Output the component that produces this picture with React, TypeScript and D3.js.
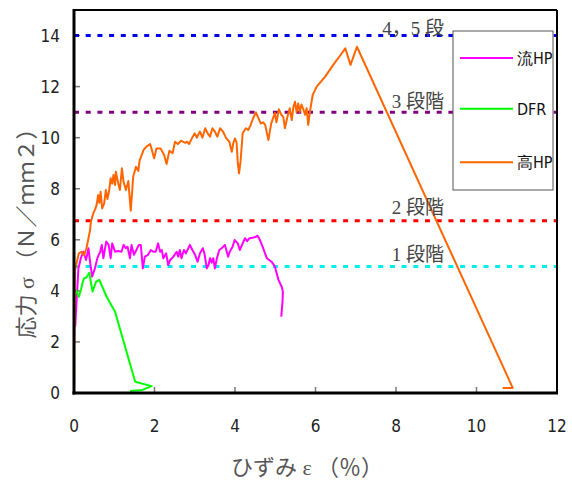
import React from "react";
import * as d3 from "d3";

type P = [number, number];

// 高HP (orange)
const koHP: P[] = [
  [0, 0], [0.02, 4.8], [0.04, 4.9], [0.07, 5.14], [0.12, 5.47], [0.19, 5.53], [0.25, 5.4], [0.31, 5.67],
  [0.35, 5.99], [0.4, 6.38], [0.42, 6.71], [0.48, 7.04], [0.52, 7.17], [0.56, 7.36], [0.6, 7.75], [0.63, 7.45],
  [0.66, 7.88], [0.7, 7.23], [0.75, 7.43], [0.79, 7.95], [0.83, 7.6], [0.87, 7.9], [0.91, 8.41], [0.95, 8.2],
  [0.98, 8.54], [1.02, 8.15], [1.04, 8.67], [1.1, 8.2], [1.14, 7.95], [1.19, 8.8], [1.23, 8.28], [1.29, 7.95],
  [1.35, 8.3], [1.41, 7.14], [1.45, 8.0], [1.47, 8.47], [1.54, 8.86], [1.6, 8.7], [1.63, 9.1], [1.73, 9.52],
  [1.8, 9.65], [1.89, 9.75], [1.93, 9.55], [1.99, 9.19], [2.05, 9.58], [2.15, 9.58], [2.24, 9.32], [2.3, 8.97],
  [2.37, 9.49], [2.45, 9.39], [2.51, 9.84], [2.58, 9.75], [2.66, 9.88], [2.76, 9.8], [2.81, 9.84], [2.86, 9.75],
  [2.95, 10.04], [3.0, 10.17], [3.05, 10.0], [3.13, 10.24], [3.19, 10.0], [3.26, 10.37], [3.32, 10.17],
  [3.38, 10.04], [3.44, 10.37], [3.5, 10.24], [3.56, 10.04], [3.63, 10.37], [3.7, 10.24], [3.78, 9.98],
  [3.86, 9.84], [3.92, 9.45], [3.96, 9.8], [4.0, 9.97], [4.04, 9.8], [4.07, 9.0], [4.1, 8.6], [4.14, 9.1],
  [4.19, 10.17], [4.27, 10.37], [4.33, 10.3], [4.39, 10.5], [4.45, 10.76], [4.52, 10.99], [4.6, 10.7],
  [4.64, 10.56], [4.7, 10.6], [4.75, 10.5], [4.83, 9.91], [4.9, 10.56], [4.99, 10.96], [5.03, 10.6],
  [5.09, 11.11], [5.15, 10.9], [5.2, 10.8], [5.24, 10.37], [5.3, 10.8], [5.36, 11.15], [5.41, 10.69],
  [5.45, 11.2], [5.49, 11.41], [5.53, 11.0], [5.57, 11.34], [5.61, 11.0], [5.65, 11.3], [5.7, 11.1],
  [5.74, 10.9], [5.78, 11.15], [5.82, 10.5], [5.86, 11.0], [5.93, 11.67], [6.03, 12.0], [6.24, 12.39],
  [6.44, 12.85], [6.59, 13.17], [6.74, 13.5], [6.87, 12.85], [7.03, 13.56], [10.9, 0.2], [10.65, 0.2],
];

// 流HP (magenta)
const ryuHP: P[] = [
  [0.03, 2.6], [0.05, 3.2], [0.11, 4.88], [0.17, 5.28], [0.23, 5.53], [0.3, 5.21], [0.36, 5.67], [0.4, 5.14],
  [0.45, 4.56], [0.52, 4.88], [0.58, 5.28], [0.65, 5.53], [0.69, 5.8], [0.73, 5.28], [0.8, 5.93], [0.86, 5.8],
  [0.91, 5.28], [0.95, 5.86], [1.02, 5.53], [1.1, 5.56], [1.18, 5.53], [1.23, 5.8], [1.29, 5.67], [1.33, 5.73],
  [1.39, 5.28], [1.43, 5.8], [1.49, 5.41], [1.55, 5.6], [1.61, 5.8], [1.66, 5.8], [1.71, 4.88], [1.76, 5.34],
  [1.84, 5.41], [1.91, 5.6], [1.97, 5.53], [2.03, 5.53], [2.09, 5.86], [2.14, 5.53], [2.18, 5.6], [2.22, 5.28],
  [2.29, 5.47], [2.34, 5.01], [2.39, 5.21], [2.47, 5.34], [2.55, 5.53], [2.59, 5.34], [2.63, 5.6], [2.67, 5.28],
  [2.73, 5.6], [2.78, 5.47], [2.84, 5.67], [2.88, 5.8], [2.94, 5.6], [3.01, 5.41], [3.07, 5.14], [3.13, 5.47],
  [3.2, 5.67], [3.24, 5.47], [3.3, 4.88], [3.34, 5.0], [3.38, 5.28], [3.42, 5.1], [3.46, 5.28], [3.5, 4.88],
  [3.55, 5.28], [3.61, 5.6], [3.67, 5.67], [3.75, 5.8], [3.83, 5.34], [3.87, 5.53], [3.94, 5.73], [3.99, 5.99],
  [4.07, 5.86], [4.12, 5.6], [4.19, 5.86], [4.25, 6.06], [4.3, 5.95], [4.36, 6.06], [4.44, 6.08], [4.52, 6.12],
  [4.56, 6.16], [4.62, 5.99], [4.7, 5.67], [4.79, 5.28], [4.91, 5.14], [4.99, 4.95], [5.08, 4.43], [5.16, 4.16],
  [5.19, 3.97], [5.18, 3.58], [5.15, 2.99],
];

// DFR (green)
const dfr: P[] = [
  [0.0, 4.03], [0.05, 4.03], [0.12, 3.77], [0.17, 4.03], [0.22, 4.36], [0.25, 4.49], [0.31, 4.53], [0.38, 4.71],
  [0.46, 3.97], [0.55, 4.36], [0.63, 4.43], [0.81, 3.77], [1.02, 3.18], [1.27, 1.81], [1.52, 0.44],
  [1.93, 0.27], [1.7, 0.12], [1.39, 0.08],
];

const seriesNames = ["流HP", "DFR", "高HP"];
const seriesColors = ["#ff00ff", "#00ff00", "#ff6600"];

const levelValues = [14, 11, 6.75, 4.95];
const levelColors = ["#0000ee", "#800080", "#ff0000", "#00eeee"];
const levelLabels = ["4，5 段", "3 段階", "2 段階", "1 段階"];
const levelLabelY = [35, 108, 214, 261];

const xTicks = [0, 2, 4, 6, 8, 10, 12];
const yTicks = [0, 2, 4, 6, 8, 10, 12, 14];

export default function App() {
  const L = 74, R = 557, T = 10, B = 393;
  const x = d3.scaleLinear().domain([0, 12]).range([L, R]);
  const y = d3.scaleLinear().domain([0, 15]).range([B, T]);
  const line = d3.line<P>().x((d) => x(d[0])).y((d) => y(d[1]));
  const data = [ryuHP, dfr, koHP];
  const tickFont = "'Liberation Sans Narrow', 'Arial Narrow', 'DejaVu Sans Condensed', sans-serif";
  const serif = "'Liberation Serif', 'DejaVu Serif', 'Noto Sans CJK JP', serif";

  return (
    <svg width={572} height={480} style={{ position: "absolute", left: 0, top: 0, background: "#fff" }}>
      <rect x={0} y={0} width={572} height={480} fill="#fff" />
      {/* ticks */}
      {xTicks.slice(1, -1).map((t) => (
        <line key={"xt" + t} x1={x(t)} x2={x(t)} y1={B} y2={B - 6} stroke="#777" strokeWidth={1.5} />
      ))}
      {yTicks.slice(1).map((t) => (
        <line key={"yt" + t} x1={L} x2={L + 6} y1={y(t)} y2={y(t)} stroke="#777" strokeWidth={1.5} />
      ))}
      {/* level lines */}
      {levelValues.map((v, i) => (
        <line key={"lv" + i} x1={L} x2={R} y1={y(v)} y2={y(v)} stroke={levelColors[i]} strokeWidth={3}
          strokeDasharray="5 6.7" />
      ))}
      {/* series */}
      {data.map((d, i) => (
        <path key={"s" + i} d={line(d) || ""} fill="none" stroke={seriesColors[i]} strokeWidth={2}
          strokeLinejoin="round" />
      ))}
      {/* frame */}
      <line x1={L} x2={R} y1={T} y2={T} stroke="#000" strokeWidth={2} />
      <line x1={R} x2={R} y1={T} y2={B} stroke="#000" strokeWidth={2} />
      <line x1={L} x2={L} y1={T - 1} y2={B + 1.5} stroke="#000" strokeWidth={3} />
      <line x1={L - 1.5} x2={R + 1} y1={B} y2={B} stroke="#000" strokeWidth={3} />
      {/* level labels */}
      {levelLabels.map((s, i) => (
        <text key={"ll" + i} x={444} y={levelLabelY[i]} textAnchor="end" fontFamily={serif} fontSize={19}
          fill="#444">{s}</text>
      ))}
      {/* tick labels */}
      {xTicks.map((t) => (
        <text key={"xl" + t} x={x(t)} y={432} textAnchor="middle" fontFamily={tickFont} fontSize={17}
          fill="#222">{t}</text>
      ))}
      {yTicks.map((t) => (
        <text key={"yl" + t} x={60} y={y(t) + 6} textAnchor="end" fontFamily={tickFont} fontSize={17}
          fill="#222">{t}</text>
      ))}
      {/* axis titles */}
      <text x={307} y={475} textAnchor="middle" fontFamily={serif} fontSize={22} fill="#555">
        ひずみ ε （％）
      </text>
      <text transform="translate(34,228) rotate(-90)" textAnchor="middle" fontFamily={serif} fontSize={22}
        fill="#555">応力 σ （Ｎ／ｍｍ２）</text>
      {/* legend */}
      <rect x={453} y={31} width={100} height={159} fill="#fff" stroke="#555" strokeWidth={1} />
      {seriesNames.map((n, i) => {
        const ly = [58, 108.7, 162.3][i];
        return (
          <g key={"lg" + i}>
            <line x1={460} x2={513} y1={ly} y2={ly} stroke={seriesColors[i]} strokeWidth={2} />
            <text x={517} y={ly + 6} fontFamily={tickFont} fontSize={16} fill="#111">{n}</text>
          </g>
        );
      })}
    </svg>
  );
}
